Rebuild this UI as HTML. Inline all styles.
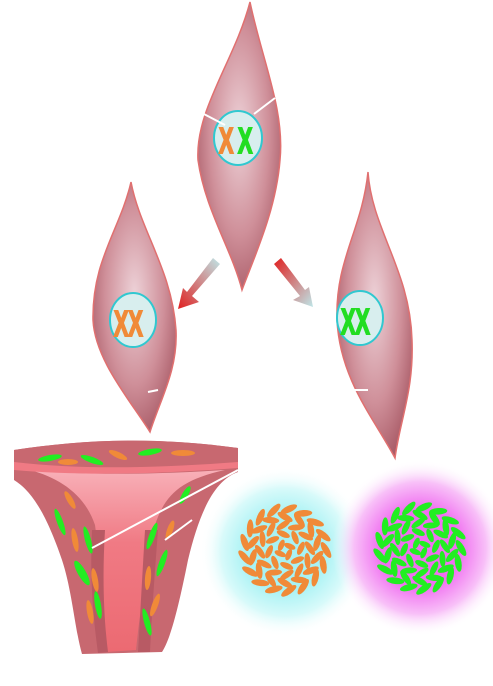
<!DOCTYPE html>
<html><head><meta charset="utf-8"><style>html,body{margin:0;padding:0;background:#fff}svg{display:block}</style></head>
<body>
<svg id="s" width="493" height="686" viewBox="0 0 493 686">
<defs>
<radialGradient id="cell" cx="0.5" cy="0.45" r="0.6"><stop offset="0" stop-color="#edd2d8"/><stop offset="0.6" stop-color="#cf8f99"/><stop offset="1" stop-color="#a85a66"/></radialGradient>
<radialGradient id="cyanGlow"><stop offset="0.45" stop-color="#a8f2f4"/><stop offset="0.75" stop-color="#d8fafa"/><stop offset="1" stop-color="#ffffff" stop-opacity="0"/></radialGradient>
<radialGradient id="magGlow"><stop offset="0.45" stop-color="#f070f0"/><stop offset="0.75" stop-color="#f8c0f8"/><stop offset="1" stop-color="#ffffff" stop-opacity="0"/></radialGradient>
<linearGradient id="arrL" x1="1" y1="0" x2="0" y2="1"><stop offset="0" stop-color="#bfe6e8"/><stop offset="1" stop-color="#e02020"/></linearGradient>
<linearGradient id="arrR" x1="0" y1="0" x2="1" y2="1"><stop offset="0" stop-color="#e02020"/><stop offset="1" stop-color="#bfe6e8"/></linearGradient>
<linearGradient id="cavity" x1="0" y1="0" x2="0" y2="1"><stop offset="0" stop-color="#f8b0b8"/><stop offset="0.4" stop-color="#f07a84"/><stop offset="1" stop-color="#ec6a72"/></linearGradient>
</defs>

<g>
<path d="M250,2 C262,60 285,110 280,160 C276,210 255,255 242,290 C232,250 205,210 198,160 C195,110 235,60 250,2Z" fill="url(#cell)" stroke="#e07070" stroke-width="1.5"/>
<ellipse cx="238" cy="138" rx="24" ry="27" fill="#d8eeee" stroke="#30c8d0" stroke-width="2"/>
<text x="0" y="153" font-family="Liberation Sans, sans-serif" font-size="36" font-weight="bold" fill="#f08a38" stroke="#f08a38" stroke-width="2" transform="translate(219,0) scale(0.6,1)">X</text>
<text x="0" y="153" font-family="Liberation Sans, sans-serif" font-size="36" font-weight="bold" fill="#22dd22" stroke="#22dd22" stroke-width="2" transform="translate(238,0) scale(0.6,1)">X</text>
<line x1="200" y1="112" x2="225" y2="125" stroke="#fff" stroke-width="2"/>
<line x1="275" y1="98" x2="254" y2="114" stroke="#fff" stroke-width="2"/>
</g>

<g>
<path d="M131,182 C140,230 172,270 176,330 C178,370 160,400 150,432 C130,400 95,360 93,320 C92,260 120,230 131,182Z" fill="url(#cell)" stroke="#e07070" stroke-width="1.5"/>
<ellipse cx="133" cy="320" rx="23" ry="27" fill="#d8eeee" stroke="#30c8d0" stroke-width="2"/>
<text x="0" y="336" font-family="Liberation Sans, sans-serif" font-size="36" font-weight="bold" fill="#f08a38" stroke="#f08a38" stroke-width="2" transform="translate(114,0) scale(0.6,1)">XX</text>
<line x1="148" y1="392" x2="158" y2="390" stroke="#fff" stroke-width="2"/>
</g>

<g>
<path d="M368,172 C372,230 410,270 412,340 C414,390 400,420 395,458 C375,420 340,380 337,320 C335,260 362,230 368,172Z" fill="url(#cell)" stroke="#e07070" stroke-width="1.5"/>
<ellipse cx="360" cy="318" rx="23" ry="27" fill="#d8eeee" stroke="#30c8d0" stroke-width="2"/>
<text x="0" y="334" font-family="Liberation Sans, sans-serif" font-size="36" font-weight="bold" fill="#22dd22" stroke="#22dd22" stroke-width="2" transform="translate(341,0) scale(0.6,1)">XX</text>
<line x1="354" y1="390" x2="368" y2="390" stroke="#fff" stroke-width="2"/>
</g>

<path d="M213,258 L220,264 L192,296 L199,302 L178,309 L183,288 L187,292Z" fill="url(#arrL)"/>
<path d="M281,258 L274,264 L300,296 L293,300 L313,307 L309,287 L305,290Z" fill="url(#arrR)"/>

<g>
<path d="M14,450 C80,440 150,436 238,448 L238,472 C215,480 200,510 188,560 C178,610 170,640 162,652 L82,654 C75,630 72,590 62,560 C45,510 30,490 14,480Z" fill="#c86870"/>
<path d="M30,470 C80,475 150,475 225,470 C180,480 165,495 155,525 C148,560 140,610 136,650 L106,652 C102,610 100,560 95,525 C85,495 60,478 30,470Z" fill="url(#cavity)"/>
<path d="M105,530 C102,580 104,620 108,652 L98,653 C92,610 90,570 92,530Z" fill="#b85a64"/>
<path d="M145,530 C142,580 140,620 138,652 L150,652 C152,610 155,570 158,530Z" fill="#b85a64"/>
<path d="M14,450 C80,440 150,436 238,448 L238,462 C160,468 80,470 14,462Z" fill="#c86870"/>
<path d="M14,462 C80,470 160,468 238,462 L238,468 C160,474 80,476 14,470Z" fill="#f07a84"/>
<g fill="#22ee22"><ellipse cx="50" cy="458" rx="12" ry="3" transform="rotate(-10 50 458)"/><ellipse cx="92" cy="460" rx="12" ry="3" transform="rotate(20 92 460)"/><ellipse cx="150" cy="452" rx="12" ry="3" transform="rotate(-10 150 452)"/>
<ellipse cx="60" cy="522" rx="14" ry="3" transform="rotate(70 60 522)"/><ellipse cx="88" cy="540" rx="14" ry="3" transform="rotate(75 88 540)"/><ellipse cx="82" cy="573" rx="14" ry="4" transform="rotate(60 82 573)"/><ellipse cx="98" cy="605" rx="14" ry="3" transform="rotate(80 98 605)"/>
<ellipse cx="152" cy="536" rx="14" ry="3" transform="rotate(-70 152 536)"/><ellipse cx="162" cy="563" rx="14" ry="3" transform="rotate(-70 162 563)"/><ellipse cx="147" cy="622" rx="14" ry="3" transform="rotate(75 147 622)"/><ellipse cx="185" cy="495" rx="10" ry="3" transform="rotate(-60 185 495)"/></g>
<g fill="#f08a38"><ellipse cx="68" cy="462" rx="10" ry="3"/><ellipse cx="118" cy="455" rx="10" ry="3" transform="rotate(25 118 455)"/><ellipse cx="183" cy="453" rx="12" ry="3"/>
<ellipse cx="70" cy="500" rx="10" ry="3" transform="rotate(60 70 500)"/><ellipse cx="75" cy="540" rx="12" ry="3" transform="rotate(80 75 540)"/><ellipse cx="95" cy="580" rx="12" ry="3" transform="rotate(80 95 580)"/><ellipse cx="90" cy="612" rx="12" ry="3" transform="rotate(80 90 612)"/>
<ellipse cx="148" cy="578" rx="12" ry="3" transform="rotate(-85 148 578)"/><ellipse cx="155" cy="605" rx="12" ry="3" transform="rotate(-70 155 605)"/><ellipse cx="170" cy="530" rx="10" ry="3" transform="rotate(-70 170 530)"/></g>
<line x1="92" y1="548" x2="238" y2="470" stroke="#fff" stroke-width="2"/>
<line x1="165" y1="540" x2="192" y2="520" stroke="#fff" stroke-width="2"/>
</g>

<g>
<circle cx="285" cy="552" r="85" fill="url(#cyanGlow)"/>
<g id="of"></g>
</g>

<g>
<circle cx="420" cy="548" r="88" fill="url(#magGlow)"/>
<g id="gf"></g>
</g>
</svg>
<script>
function whorl(id,cx,cy,col){
  var g=document.getElementById(id), ns='http://www.w3.org/2000/svg';
  var rings=[[41,17,9,3.3],[33,14,8.5,3.2],[25,12,8,3],[16,8,7,3],[6,4,6,2.8]];
  rings.forEach(function(r,ri){
    for(var i=0;i<r[1];i++){
      var a=(i/r[1])*360+ri*13;
      var rad=a*Math.PI/180;
      var x=cx+r[0]*Math.cos(rad), y=cy+r[0]*Math.sin(rad);
      var e=document.createElementNS(ns,'ellipse');
      e.setAttribute('cx',x);e.setAttribute('cy',y);
      e.setAttribute('rx',r[2]);e.setAttribute('ry',r[3]);
      e.setAttribute('fill',col);
      e.setAttribute('transform','rotate('+(a+90+(ri%2?30:-30))+' '+x+' '+y+')');
      g.appendChild(e);
    }
  });
}
whorl('of',285,550,'#f08a38');
whorl('gf',420,548,'#22ee22');
</script>
</body></html>
